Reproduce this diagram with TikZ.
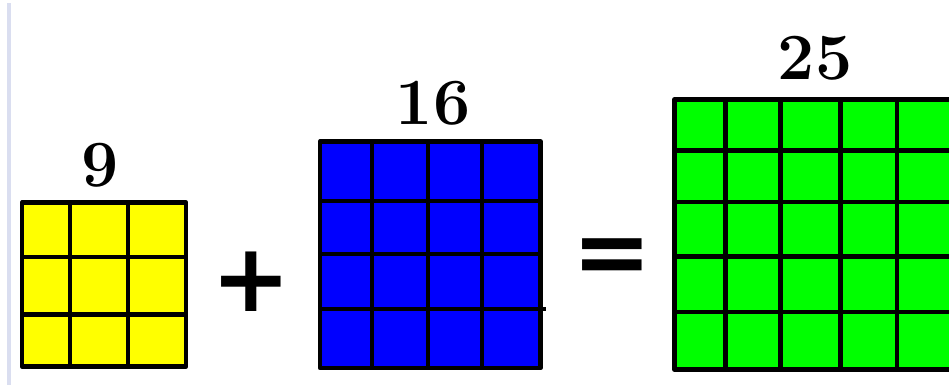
\documentclass[tikz,border=0pt]{standalone}
\usepackage{fontspec}
\newfontfamily\opfont{DejaVu Sans}
\usepackage{xcolor}
\usepackage{tikz}
\usetikzlibrary{positioning}
\definecolor{sqyellow}{RGB}{255,255,0}
\definecolor{sqblue}{RGB}{0,0,255}
\definecolor{sqgreen}{RGB}{0,255,0}
\definecolor{edgecol}{RGB}{218,222,240}

\begin{document}
\begin{tikzpicture}[x=1pt,y=1pt,
  cell/.style={line width=4.8pt,black,line join=round},
  num/.style={font=\fontsize{66}{66}\selectfont\bfseries,inner sep=0pt,anchor=base},
  op/.style={font=\opfont\bfseries\fontsize{95}{95}\selectfont,inner sep=0pt}]
  \useasboundingbox (0,0) rectangle (949,385);
  \clip (0,0) rectangle (949,385);
  \fill[edgecol] (7,0) rectangle (11,382);
  % 3 x 3
  \fill[sqyellow] (22,18.5) rectangle (186,182.5);
  \foreach \x in {70,128} \draw[cell] (\x,18.5)--(\x,182.5);
  \foreach \y in {128,70.5} \draw[cell] (22,\y)--(186,\y);
  \draw[cell] (22,18.5) rectangle (186,182.5);
  \node[num] (nine) at (100,198) {9};
  % 4 x 4
  \fill[sqblue] (320,17) rectangle (540.5,243.5);
  \foreach \x in {372,428,482} \draw[cell] (\x,17)--(\x,243.5);
  \foreach \y in {184,131} \draw[cell] (320,\y)--(540.5,\y);
  \draw[cell] (320,76)--(546,76);
  \draw[cell] (320,17) rectangle (540.5,243.5);
  \node[num] (sixteen) at (433,260) {16};
  % 5 x 5
  \fill[sqgreen] (674.5,15.5) rectangle (955,285.5);
  \foreach \x in {725.5,780.5,840.5,897} \draw[cell] (\x,15.5)--(\x,285.5);
  \foreach \y in {234.5,183,128.5,73} \draw[cell] (674.5,\y)--(955,\y);
  \draw[cell] (674.5,15.5) rectangle (955,285.5);
  \node[num] (twentyfive) at (815,305) {25};
  % signs
  \node[op] (plus) at (251.5,103) {+};
  \node[op] (equals) at (612,123) {=};
\end{tikzpicture}
\end{document}
